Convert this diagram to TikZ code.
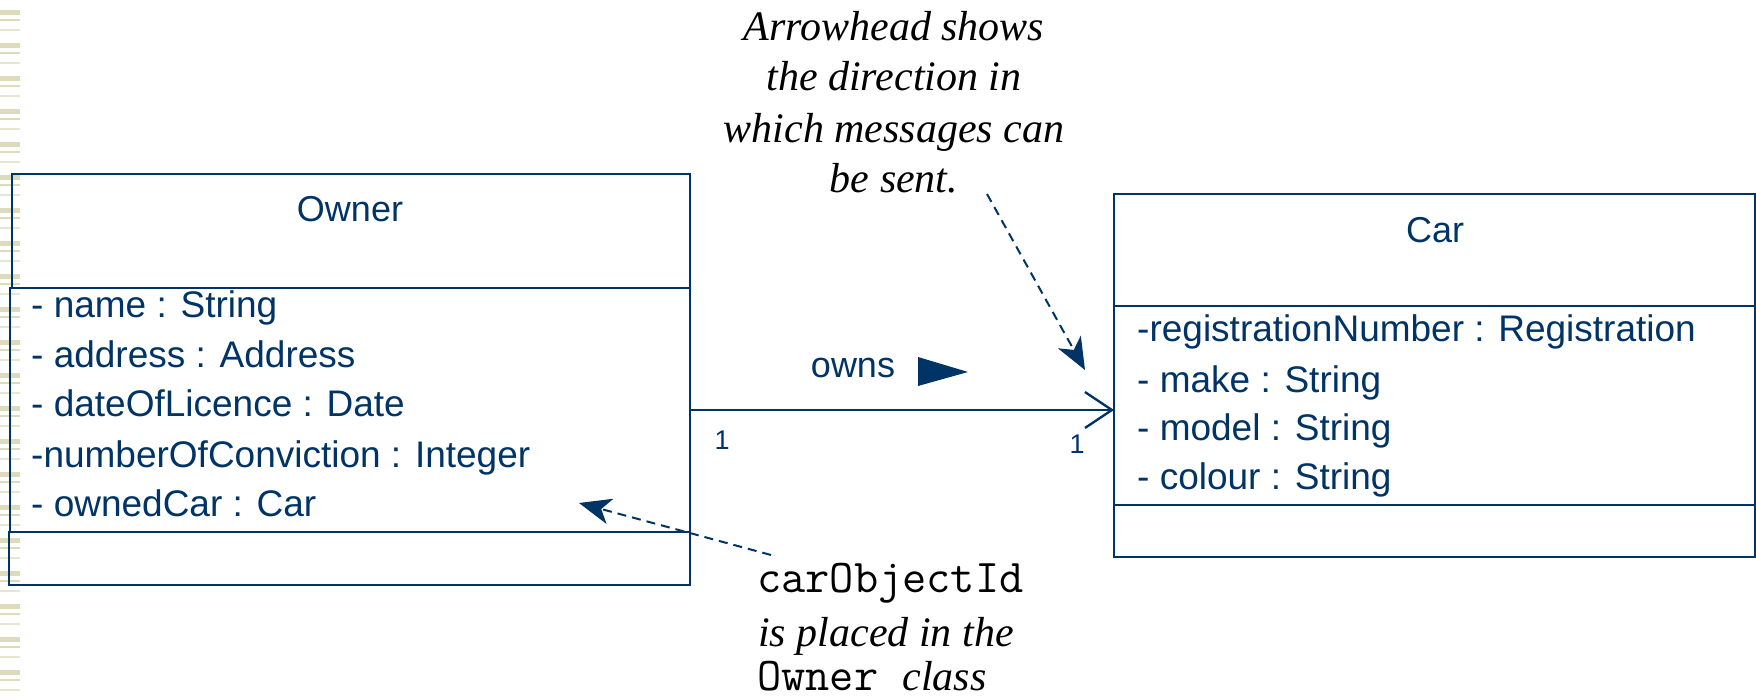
\documentclass[tikz,border=0pt]{standalone}
\usepackage{fontspec}
\setmainfont{Liberation Serif}
\setsansfont{Liberation Sans}
\usetikzlibrary{arrows.meta}
\definecolor{navy}{RGB}{0,51,102}
\definecolor{stripe}{RGB}{222,219,188}
\newcommand{\codefont}{\fontsize{47}{51}\selectfont\ttfamily}
\tikzset{
  compart/.style={draw=navy, line width=2.3pt, inner sep=0pt, outer sep=0pt, anchor=north west},
  classname/.style={font=\fontsize{36}{43}\selectfont\sffamily, text=navy, inner sep=0pt},
  attr/.style={font=\fontsize{37}{44}\selectfont\sffamily, text=navy, anchor=base west, inner sep=0pt},
  mult/.style={font=\fontsize{27}{30}\selectfont\sffamily, text=navy, inner sep=0pt},
  assoc/.style={draw=navy, line width=2.3pt, -{Straight Barb[length=27pt,width=36pt,line width=2.3pt]}},
  notearrow/.style={draw=navy, line width=2pt, dash pattern=on 9pt off 6pt,
    -{Stealth[length=32pt,width=26pt,inset=9pt]}},
  noteit/.style={font=\fontsize{42}{51}\selectfont\itshape, text=black, inner sep=0pt, anchor=base},
  notecode/.style={font=\fontsize{42}{51}\selectfont, text=black, inner sep=0pt, anchor=base west},
}
\begin{document}
\begin{tikzpicture}[x=1pt,y=-1pt]
  \useasboundingbox (0,0) rectangle (1756,700);

  % decorative stripes along the left margin
  \foreach \y in {10,43,76,109,142,175,208,241,274,307,340,373,406,439,472,505,538,571,604,637,670}{
    \fill[stripe] (0,\y) rectangle (20,\y+5);
    \fill[stripe] (0,\y+9) rectangle (20,\y+11);
    \fill[stripe!70!white] (0,\y+19) rectangle (20,\y+21);
  }

  % Owner class
  \node[compart, minimum width=678pt, minimum height=114pt] (ownerHead) at (12,174) {};
  \node[compart, minimum width=680pt, minimum height=244pt] (ownerAttr) at (10,288) {};
  \node[compart, minimum width=681pt, minimum height=53pt]  (ownerOps)  at (9,532) {};
  \node[classname] (ownerName) at (350,209) {Owner};
  \node[attr] (oa1) at (31,318) {- name : String};
  \node[attr] (oa2) at (31,367) {- address : Address};
  \node[attr] (oa3) at (31,416) {- dateOfLicence : Date};
  \node[attr] (oa4) at (31,467) {-numberOfConviction : Integer};
  \node[attr] (oa5) at (31,516) {- ownedCar : Car};

  % Car class
  \node[compart, minimum width=641pt, minimum height=112pt] (carHead) at (1114,194) {};
  \node[compart, minimum width=641pt, minimum height=199pt] (carAttr) at (1114,306) {};
  \node[compart, minimum width=641pt, minimum height=52pt]  (carOps)  at (1114,505) {};
  \node[classname] (carName) at (1435,230) {Car};
  \node[attr] (ca1) at (1137,342) {-registrationNumber : Registration};
  \node[attr] (ca2) at (1137,392) {- make : String};
  \node[attr] (ca3) at (1137,440) {- model : String};
  \node[attr] (ca4) at (1137,489) {- colour : String};

  % association Owner -> Car
  \draw[assoc] (ownerAttr.east) -- (carAttr.west |- ownerAttr.east);
  \node[mult] (m1) at (722,440) {1};
  \node[mult] (m2) at (1077,444) {1};
  \node[font=\fontsize{36}{43}\selectfont\sffamily, text=navy, inner sep=0pt] (owns) at (853,368) {owns};
  \fill[navy] (918,357) -- (968,372) -- (918,386) -- cycle;

  % note on navigability
  \node[noteit] (nl1) at (894,41) {Arrowhead shows};
  \node[noteit] (nl2) at (894,91) {the direction in};
  \node[noteit] (nl3) at (894,143) {which messages can};
  \node[noteit] (nl4) at (894,193) {be sent.};
  \coordinate (navTail) at (987,194);
  \coordinate (navTip) at (1085,370);
  \draw[notearrow] (navTail) -- (navTip);

  % note on the attribute holding the reference
  \node[notecode] (bl1) at (757,592) {\codefont carObjectId};
  \node[notecode] (bl2) at (758,646) {\itshape is placed in the};
  \node[notecode] (bl3) at (757,690) {{\codefont Owner }\itshape class};
  \coordinate (refTail) at (771,555);
  \coordinate (refTip) at (579,503);
  \draw[notearrow] (refTail) -- (refTip);
\end{tikzpicture}
\end{document}
